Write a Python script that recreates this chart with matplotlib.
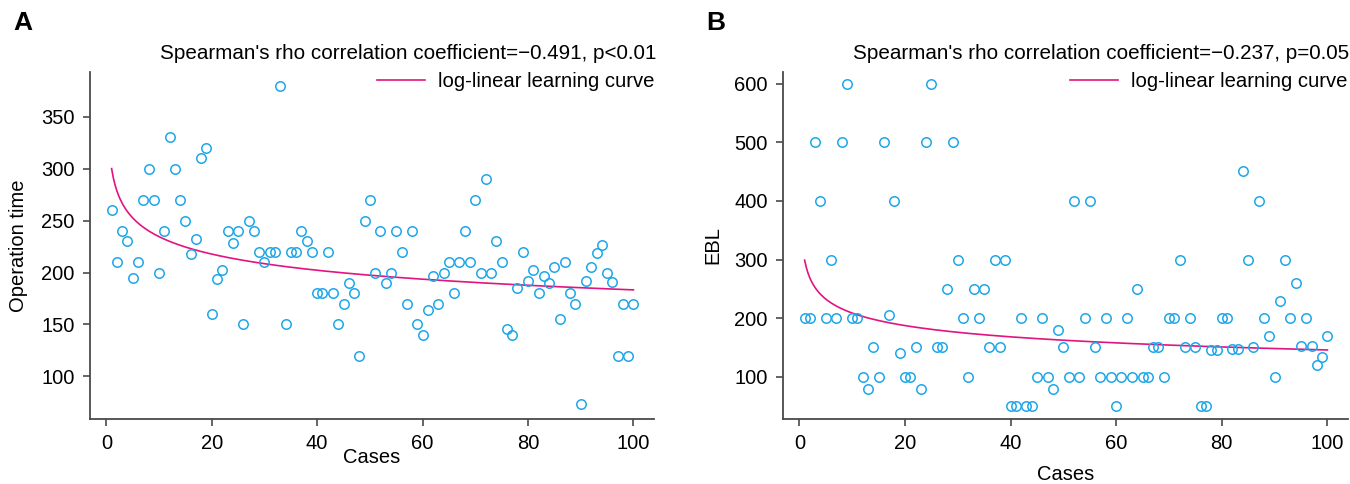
import numpy as np
import matplotlib.pyplot as plt

plt.rcParams['font.family'] = ['Liberation Sans', 'DejaVu Sans']

cases = list(range(1, 101))

# operation time (panel A)
op_time = [260, 210, 240, 230, 195, 210, 270, 300, 270, 200,
           240, 330, 300, 270, 250, 218, 232, 310, 320, 160,
           194, 202, 240, 228, 240, 150, 250, 240, 220, 210,
           220, 220, 380, 150, 220, 220, 240, 230, 220, 180,
           180, 220, 180, 150, 170, 190, 180, 120, 250, 270,
           200, 240, 190, 200, 240, 220, 170, 240, 150, 140,
           164, 197, 170, 200, 210, 180, 210, 240, 210, 270,
           200, 290, 200, 230, 210, 146, 140, 185, 220, 192,
           202, 180, 197, 190, 205, 155, 210, 180, 170, 73,
           192, 205, 219, 226, 200, 191, 120, 170, 120, 170]

# estimated blood loss (panel B)
ebl = [200, 200, 500, 400, 200, 300, 200, 500, 600, 200,
       200, 100, 80, 150, 100, 500, 205, 400, 140, 100,
       100, 150, 80, 500, 600, 150, 150, 250, 500, 300,
       200, 100, 250, 200, 250, 150, 300, 150, 300, 50,
       50, 200, 50, 50, 100, 200, 100, 80, 180, 150,
       100, 400, 100, 200, 400, 150, 100, 200, 100, 50,
       100, 200, 100, 250, 100, 100, 150, 150, 100, 200,
       200, 300, 150, 200, 150, 50, 50, 145, 145, 200,
       200, 147, 147, 451, 300, 150, 400, 200, 170, 100,
       230, 300, 200, 260, 153, 200, 153, 120, 133, 170]

# log-linear learning curve  y = a * x^b
curve_a = [300, 299]
curve_b = [-0.107, -0.156]

titles = ["Spearman's rho correlation coefficient=\u22120.491, p<0.01",
          "Spearman's rho correlation coefficient=\u22120.237, p=0.05"]
ylabels = ['Operation time', 'EBL']
panel_tags = ['A', 'B']
yticks = [[100, 150, 200, 250, 300, 350], [100, 200, 300, 400, 500, 600]]
ylims = [(59, 393), (28, 620)]

dot_color = '#1ea7e8'
line_color = '#e2147f'
spine_color = '#4a4a4a'
fs = 14.5

fig = plt.figure(figsize=(13.5, 4.84), dpi=100)
W, H = 1350, 484
boxes = [(90, 654), (783, 1348)]
top, bottom = 72, 419
series = [op_time, ebl]
ylab_x = [-62, -61]
xlab_y = [-29, -46]

for i in range(2):
    l, r = boxes[i]
    w = r - l
    ax = fig.add_axes([l / W, 1 - bottom / H, w / W, (bottom - top) / H])
    ax.plot(cases, series[i], 'o', ms=6.8, mfc='none', mec=dot_color, mew=1.1,
            clip_on=False, zorder=3)
    xs = np.linspace(1, 100, 300)
    line, = ax.plot(xs, curve_a[i] * xs ** curve_b[i], color=line_color, lw=1.2,
                    label='log-linear learning curve')
    ax.set_xlim(-3.1, 103.9)
    ax.set_ylim(*ylims[i])
    ax.set_xticks([0, 20, 40, 60, 80, 100])
    ax.set_yticks(yticks[i])
    for s in ['top', 'right']:
        ax.spines[s].set_visible(False)
    for s in ['left', 'bottom']:
        ax.spines[s].set_color(spine_color)
        ax.spines[s].set_linewidth(1.3)
    ax.tick_params(length=5, width=1.2, color=spine_color, labelsize=fs, pad=6)
    ax.tick_params(axis='x', pad=6)
    ax.set_ylabel(ylabels[i], fontsize=fs)
    ax.set_xlabel('Cases', fontsize=fs)
    ax.yaxis.set_label_coords(ylab_x[i] / w, 0.5)
    ax.xaxis.set_label_coords(0.5, xlab_y[i] / (bottom - top))
    ax.text(70 / w, 1.052, titles[i], transform=ax.transAxes, fontsize=14.9,
            ha='left', va='center', clip_on=False)
    ax.legend(handles=[line], loc='center left', bbox_to_anchor=(287 / w, 0.972),
              frameon=False, fontsize=14.6, borderpad=0, borderaxespad=0,
              handlelength=2.35, handletextpad=0.65)
    fig.text((l - 77) / W, 1 - 23 / H, panel_tags[i], fontsize=19, fontweight='bold',
             va='center')

fig.savefig('out.png', dpi=100)
